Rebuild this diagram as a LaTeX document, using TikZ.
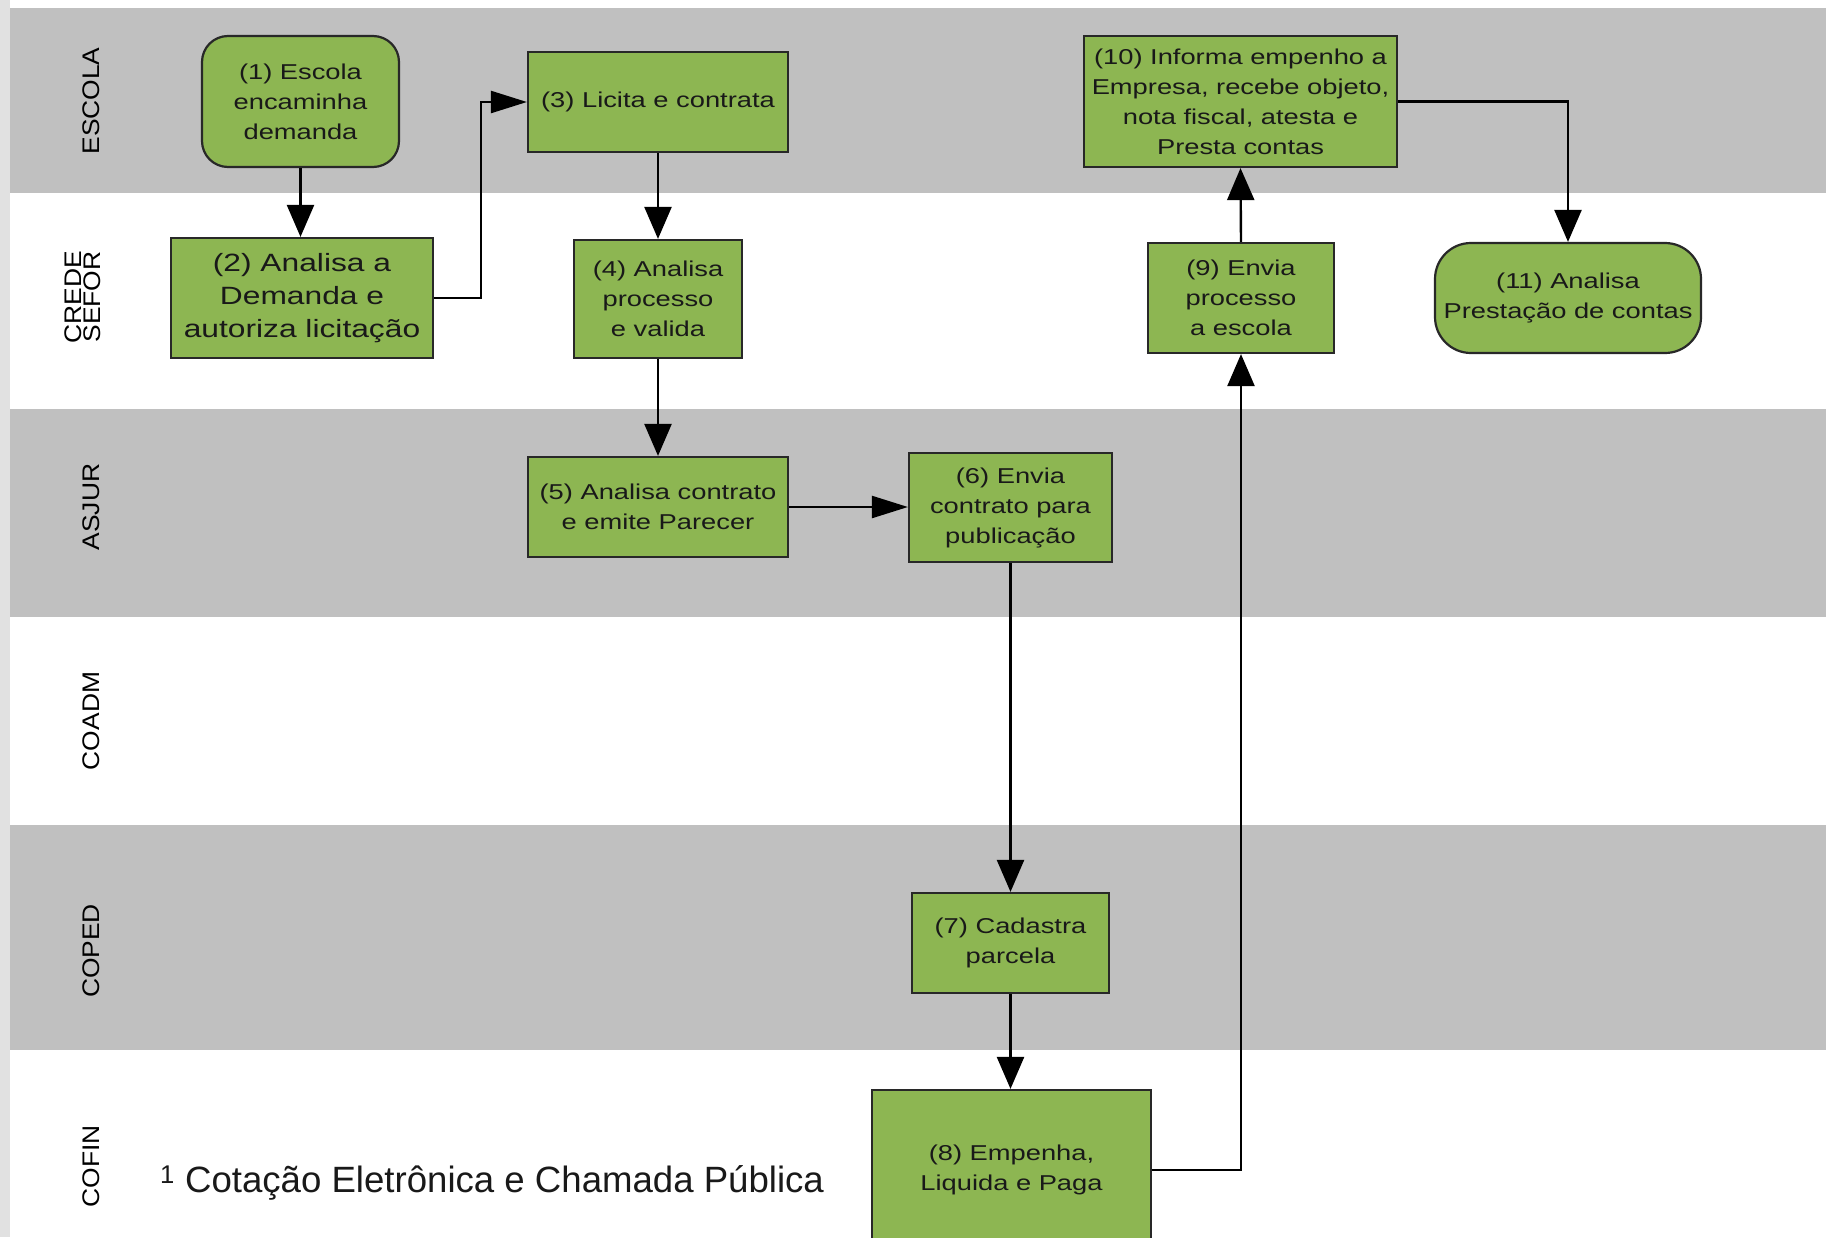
\documentclass[tikz,border=0pt]{standalone}
\usepackage{fontspec}
\setmainfont{Liberation Sans}
\newfontfamily\boxfont[FakeStretch=1.27]{Liberation Sans}
\newfontfamily\lanefont[FakeStretch=1.1]{Liberation Sans}
\usetikzlibrary{arrows.meta}
\definecolor{band}{RGB}{192,192,192}
\definecolor{boxgreen}{RGB}{141,182,82}
\definecolor{boxline}{RGB}{40,40,40}
\definecolor{edgestrip}{RGB}{225,225,225}
\definecolor{ink}{RGB}{25,25,25}
\begin{document}
\begin{tikzpicture}[x=1pt,y=-1pt,
  proc/.style={draw=boxline, line width=2.2pt, fill=boxgreen, text=ink, align=center, inner sep=0pt, font=\boxfont\fontsize{21.5}{30}\selectfont},
  flow/.style={line width=2.4pt, draw=black},
  tipv/.style={-{Triangle[length=32pt,width=27pt]}},
  tiph/.style={-{Triangle[length=36pt,width=22pt]}},
  lane/.style={rotate=90, font=\lanefont\fontsize{24}{19}\selectfont, align=center, inner sep=0pt}]
\useasboundingbox (0,0) rectangle (1826,1237);
\clip (0,0) rectangle (1826,1237);
\fill[white] (0,0) rectangle (1826,1237);
\fill[edgestrip] (0,0) rectangle (10,1237);
\fill[band] (10,8) rectangle (1826,193);
\fill[band] (10,409) rectangle (1826,617);
\fill[band] (10,825) rectangle (1826,1050);

\node[lane] (lescola) at (91,101) {ESCOLA};
\node[lane] (lcrede) at (83,297) {CREDE\\SEFOR};
\node[lane] (lasjur) at (91,507) {ASJUR};
\node[lane] (lcoadm) at (91,721) {COADM};
\node[lane] (lcoped) at (91,951) {COPED};
\node[lane] (lcofin) at (91,1166) {COFIN};

\node[proc, rounded corners=26pt, minimum width=197pt, minimum height=131pt] (n1) at (300.5,101.5) {(1) Escola\\encaminha\\demanda};
\node[proc, minimum width=262pt, minimum height=120pt, font=\boxfont\fontsize{25}{33}\selectfont] (n2) at (302,298) {(2) Analisa a\\Demanda e\\autoriza licitação};
\node[proc, minimum width=260pt, minimum height=100pt] (n3) at (658,102) {(3) Licita e contrata};
\node[proc, minimum width=168pt, minimum height=118pt] (n4) at (658,299) {(4) Analisa\\processo\\e valida};
\node[proc, minimum width=260pt, minimum height=100pt] (n5) at (658,507) {(5) Analisa contrato\\e emite Parecer};
\node[proc, minimum width=203pt, minimum height=109pt] (n6) at (1010.5,507.5) {(6) Envia\\contrato para\\publicação};
\node[proc, minimum width=197pt, minimum height=100pt] (n7) at (1010.5,943) {(7) Cadastra\\parcela};
\node[proc, minimum width=279pt, minimum height=160pt] (n8) at (1011.5,1170) {(8) Empenha,\\Liquida e Paga};
\node[proc, minimum width=186pt, minimum height=110pt] (n9) at (1241,298) {(9) Envia\\processo\\a escola};
\node[proc, minimum width=313pt, minimum height=131pt] (n10) at (1240.5,101.5) {(10) Informa empenho a\\Empresa, recebe objeto,\\nota fiscal, atesta e\\Presta contas};
\node[proc, rounded corners=36pt, minimum width=266pt, minimum height=110pt] (n11) at (1568,298) {(11) Analisa\\Prestação de contas};

\node[anchor=west, inner sep=0pt, text=ink, font=\fontsize{36.6}{40}\selectfont] (legend) at (160,1183) {\textsuperscript{1} Cotação Eletrônica e Chamada Pública};

\draw[flow,tipv] (n1.south) -- (n1.south |- n2.north);
\draw[flow,tiph] (n2.east) -- ++(47,0) |- (n3.west);
\draw[flow,tipv] (n3.south) -- (n4.north);
\draw[flow,tipv] (n4.south) -- (n5.north);
\draw[flow,tiph] (n5.east) -- (n6.west |- n5.east);
\draw[flow,tipv] (n6.south) -- (n7.north);
\draw[flow,tipv] (n7.south) -- (n7.south |- n8.north);
\draw[flow,tipv] (n8.east) -| (n9.south);
\draw[flow,tipv] (n9.north) -- (n10.south);
\draw[flow,tipv] (n10.east) -| (n11.north);
\end{tikzpicture}
\end{document}
